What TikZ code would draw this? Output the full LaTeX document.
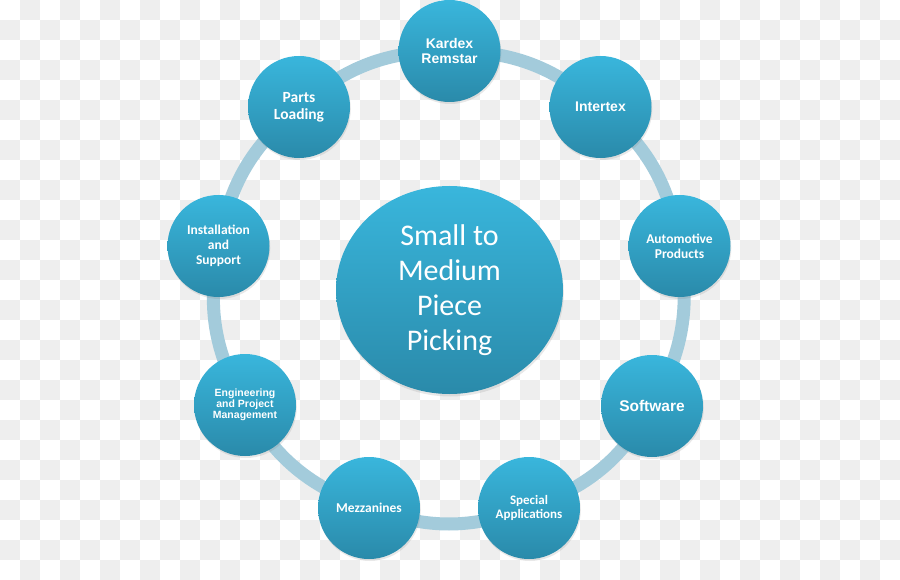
\documentclass[tikz,border=0pt]{standalone}
\usepackage{fontspec}
\setmainfont{Carlito}
\newfontfamily\calfont{Carlito}
\newfontfamily\arifont{Liberation Sans}
\usetikzlibrary{shapes.geometric,shadows}
\definecolor{topc}{HTML}{39B6DC}
\definecolor{botc}{HTML}{2A8AAA}
\definecolor{ringc}{HTML}{A3CBDB}
\definecolor{checkc}{HTML}{EEEEEE}
\pgfdeclarelayer{bg}
\pgfdeclarelayer{ringlayer}
\pgfsetlayers{bg,ringlayer,main}
\tikzset{
  bubble/.style={circle, minimum size=102pt, inner sep=0pt, top color=topc, bottom color=botc,
    text=white, align=center, draw=none,
    drop shadow={opacity=0.18, shadow xshift=0.8pt, shadow yshift=-2pt}},
  hub/.style={ellipse, minimum width=227pt, minimum height=208pt, inner sep=0pt,
    top color=topc, bottom color=botc, text=white, align=center,
    drop shadow={opacity=0.18, shadow xshift=0.8pt, shadow yshift=-2.5pt}},
  ringline/.style={line width=13pt, draw=ringc}
}
\begin{document}
\begin{tikzpicture}[x=1pt,y=-1pt]
\useasboundingbox (0,0) rectangle (900,580);
\begin{pgfonlayer}{bg}
\fill[white] (0,0) rectangle (900,580);
\foreach \i in {0,...,44}{
  \foreach \j in {0,...,28}{
    \pgfmathtruncatemacro\sm{mod(\i+\j,2)}
    \ifnum\sm=1 \fill[checkc] (\i*20,\j*20) rectangle ++(20,20); \fi
  }
}
\end{pgfonlayer}

\node[hub, font=\calfont\fontsize{30}{35}\selectfont] (hubn) at (449.5,290) {Small to\\Medium\\Piece\\Picking};

\node[bubble, font=\arifont\bfseries\fontsize{14}{14.5}\selectfont] (kardex) at (449.5,51) {Kardex\\Remstar};
\node[bubble, font=\arifont\bfseries\fontsize{14}{14.5}\selectfont] (intertex) at (600.5,107) {Intertex};
\node[bubble, font=\calfont\bfseries\fontsize{13.5}{15}\selectfont] (auto) at (679.5,246) {Automotive\\Products};
\node[bubble, font=\arifont\bfseries\fontsize{15.5}{16}\selectfont] (soft) at (652,406) {Software};
\node[bubble, font=\calfont\bfseries\fontsize{13}{14.5}\selectfont] (special) at (529,508) {Special\\Applications};
\node[bubble, font=\calfont\bfseries\fontsize{13.5}{15}\selectfont] (mezz) at (369,508) {Mezzanines};
\node[bubble, font=\arifont\bfseries\fontsize{10.5}{11}\selectfont] (eng) at (245,405) {Engineering\\and Project\\Management};
\node[bubble, font=\calfont\bfseries\fontsize{13.5}{15}\selectfont] (inst) at (218.5,246) {Installation\\and\\Support};
\node[bubble, font=\calfont\bfseries\fontsize{15.5}{17}\selectfont] (parts) at (299,107) {Parts\\Loading};

\begin{pgfonlayer}{ringlayer}
\draw[ringline] plot[smooth cycle, tension=0.75] coordinates {(kardex.center) (intertex.center) (auto.center) (soft.center) (special.center) (mezz.center) (eng.center) (inst.center) (parts.center)};
\end{pgfonlayer}
\end{tikzpicture}
\end{document}
